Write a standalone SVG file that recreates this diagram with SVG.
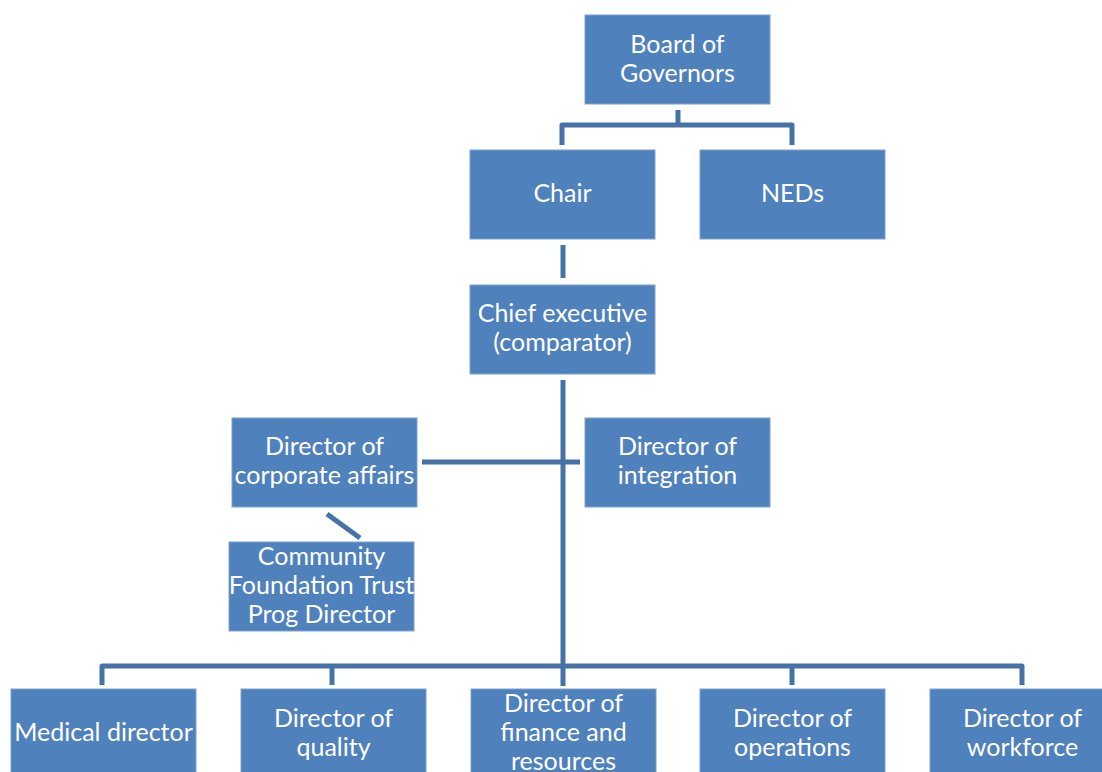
<svg xmlns="http://www.w3.org/2000/svg" width="1102" height="772" viewBox="0 0 1102 772">
  <style>
    .box { fill: #4F81BD; stroke: #7FA2CF; stroke-width: 1; }
    .lbl { fill: #FFFFFF; font-family: Lato, "Open Sans", "Liberation Sans", sans-serif; font-size: 25px; text-anchor: middle; }
    .conn { fill: none; stroke: #4672A8; stroke-width: 5; stroke-linejoin: round; }
  </style>
  <rect width="1102" height="772" fill="#FFFFFF"/>

  <!-- connectors -->
  <g id="connectors">
    <path class="conn" d="M678 110 V125"/>
    <path class="conn" d="M562 145 V125 H792 V145"/>
    <path class="conn" d="M563 245 V278"/>
    <path class="conn" d="M563 380 V686"/>
    <path class="conn" d="M422 462 H580"/>
    <path class="conn" d="M327 514 L360 538"/>
    <path class="conn" d="M102 685 V666 H1022 V685"/>
    <path class="conn" d="M332 666 V685"/>
    <path class="conn" d="M792 666 V685"/>
  </g>

  <g id="board">
    <rect class="box" x="585" y="15" width="185" height="89"/>
    <text class="lbl" x="677.5" y="53">Board of</text>
    <text class="lbl" x="677.5" y="82">Governors</text>
  </g>
  <g id="chair">
    <rect class="box" x="470" y="150" width="185" height="89"/>
    <text class="lbl" x="562.5" y="202">Chair</text>
  </g>
  <g id="neds">
    <rect class="box" x="700" y="150" width="185" height="89"/>
    <text class="lbl" x="792.5" y="202">NEDs</text>
  </g>
  <g id="chief-executive">
    <rect class="box" x="470" y="285" width="185" height="89"/>
    <text class="lbl" x="562.5" y="322">Chief executive</text>
    <text class="lbl" x="562.5" y="351">(comparator)</text>
  </g>
  <g id="corporate-affairs">
    <rect class="box" x="232" y="418" width="185" height="89"/>
    <text class="lbl" x="324.5" y="455">Director of</text>
    <text class="lbl" x="324.5" y="484">corporate affairs</text>
  </g>
  <g id="integration">
    <rect class="box" x="585" y="418" width="185" height="89"/>
    <text class="lbl" x="677.5" y="455">Director of</text>
    <text class="lbl" x="677.5" y="484">integration</text>
  </g>
  <g id="community-trust">
    <rect class="box" x="229" y="542" width="185" height="89"/>
    <text class="lbl" x="321.5" y="565">Community</text>
    <text class="lbl" x="321.5" y="594">Foundation Trust</text>
    <text class="lbl" x="321.5" y="623">Prog Director</text>
  </g>
  <g id="medical">
    <rect class="box" x="11" y="689" width="185" height="89"/>
    <text class="lbl" x="103.5" y="741">Medical director</text>
  </g>
  <g id="quality">
    <rect class="box" x="241" y="689" width="185" height="89"/>
    <text class="lbl" x="333.5" y="727">Director of</text>
    <text class="lbl" x="333.5" y="756">quality</text>
  </g>
  <g id="finance">
    <rect class="box" x="471" y="689" width="185" height="89"/>
    <text class="lbl" x="563.5" y="712">Director of</text>
    <text class="lbl" x="563.5" y="741">finance and</text>
    <text class="lbl" x="563.5" y="770">resources</text>
  </g>
  <g id="operations">
    <rect class="box" x="700" y="689" width="185" height="89"/>
    <text class="lbl" x="792.5" y="727">Director of</text>
    <text class="lbl" x="792.5" y="756">operations</text>
  </g>
  <g id="workforce">
    <rect class="box" x="930" y="689" width="185" height="89"/>
    <text class="lbl" x="1022.5" y="727">Director of</text>
    <text class="lbl" x="1022.5" y="756">workforce</text>
  </g>
</svg>
